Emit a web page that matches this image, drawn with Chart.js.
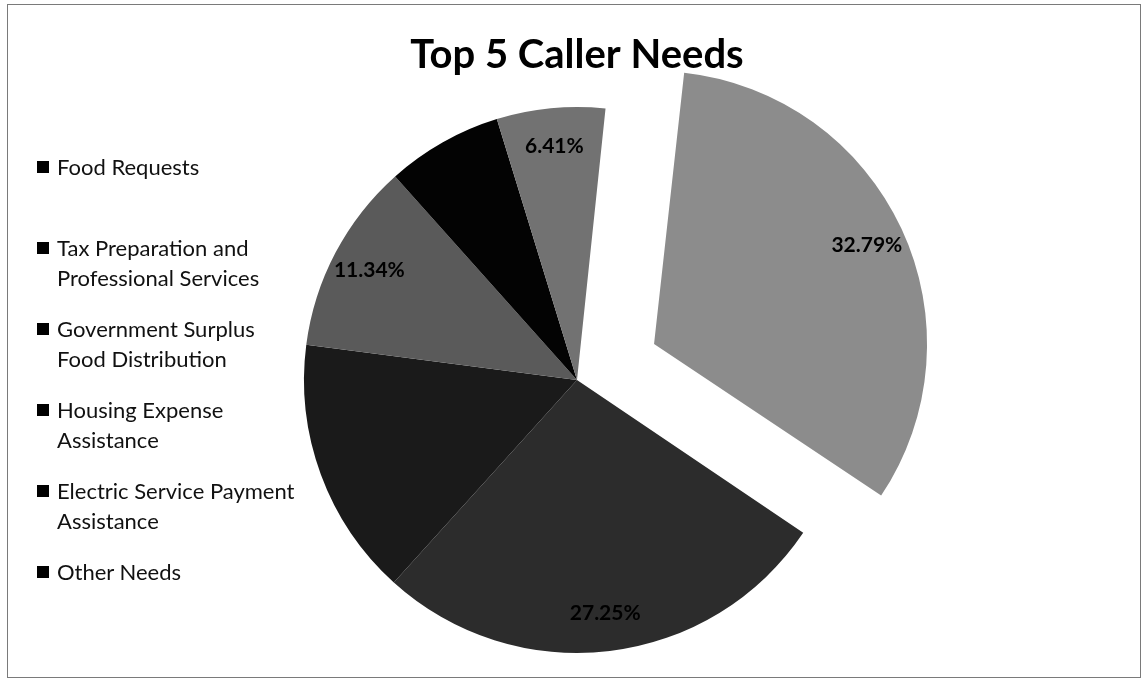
<!DOCTYPE html>
<html>
<head>
	<title>Top 5 Caller Needs</title>
	<script src="https://cdn.jsdelivr.net/npm/chart.js@4/dist/chart.umd.min.js"></script>
	<style>
		body { margin: 0; background: #fff; }
		#wrap { position: relative; width: 1143px; height: 680px; }
		#frame { position: absolute; left: 7px; top: 4px; width: 1132px; height: 672px; border: 1px solid #7a7a7a; }
		#legend { position: absolute; left: 37px; top: 0; font-family: Lato, sans-serif; font-size: 22px; color: #111; }
		#legend .item { position: absolute; left: 0; width: 270px; }
		#legend .box { position: absolute; left: 0; top: 9px; width: 12px; height: 12px; background: #000; }
		#legend .txt { position: absolute; left: 20px; width: 242px; line-height: 30px; }
		canvas { position: absolute; left: 0; top: 0; }
	</style>
</head>
<body>
	<div id="wrap">
		<div id="frame"></div>
		<canvas id="chart" width="1143" height="680"></canvas>
		<div id="legend"></div>
	</div>

	<script>
		// categories, shares (percent) and slice tones
		var categorias = ["Food Requests", "Tax Preparation and Professional Services", "Government Surplus Food Distribution", "Housing Expense Assistance", "Electric Service Payment Assistance", "Other Needs"];
		var porcentajes = [32.79, 27.25, 15.35, 11.34, 6.86, 6.41];
		var colores = ["#8c8c8c", "#2c2c2c", "#1a1a1a", "#5a5a5a", "#030303", "#727272"];
		// only these slices carry a printed value
		var conEtiqueta = [true, true, false, true, false, true];

		// legend on the left
		var legend = document.getElementById('legend');
		for (var i = 0; i < categorias.length; i++) {
			var item = document.createElement('div');
			item.className = 'item';
			item.style.top = (152 + 81 * i) + 'px';
			item.innerHTML = '<div class="box"></div><div class="txt">' + categorias[i] + '</div>';
			legend.appendChild(item);
		}

		// arcs grow by offset/4*fix when pulled out; keep the pulled slice the same size
		var mismoRadio = {
			id: 'mismoRadio',
			beforeDatasetsDraw: function(chart) {
				var meta = chart.getDatasetMeta(0);
				var r = meta.controller.outerRadius;
				meta.data.forEach(function(arc) {
					var off = (arc.options.offset || 0) / 4;
					var circ = arc.endAngle - arc.startAngle;
					var fix = 1 - Math.sin(Math.min(Math.PI, circ));
					arc.outerRadius = r - off * fix;
				});
			}
		};

		// percent labels inside the slices
		var etiquetas = {
			id: 'etiquetas',
			afterDatasetsDraw: function(chart) {
				var ctx = chart.ctx;
				var meta = chart.getDatasetMeta(0);
				var r = meta.controller.outerRadius;
				ctx.save();
				ctx.font = 'bold 21px Lato, sans-serif';
				ctx.fillStyle = '#000';
				ctx.textAlign = 'center';
				ctx.textBaseline = 'middle';
				meta.data.forEach(function(arc, i) {
					if (!conEtiqueta[i]) return;
					var mid = (arc.startAngle + arc.endAngle) / 2;
					var d = (arc.options.offset || 0) / 4 + r * 0.86;
					ctx.fillText(porcentajes[i].toFixed(2) + '%', arc.x + Math.cos(mid) * d, arc.y + Math.sin(mid) * d);
				});
				ctx.restore();
			}
		};

		var canvas = document.getElementById('chart').getContext('2d');
		window.pie = new Chart(canvas, {
			type: 'pie',
			data: {
				labels: categorias,
				datasets: [{
					data: porcentajes,
					backgroundColor: colores,
					borderWidth: 0,
					offset: [340, 0, 0, 0, 0, 0],
					radius: 273
				}]
			},
			options: {
				responsive: false,
				animation: false,
				rotation: 6,
				layout: { padding: { left: 11, right: 0, top: 0, bottom: 12 } },
				plugins: {
					legend: { display: false },
					tooltip: { enabled: false },
					title: {
						display: true,
						text: 'Top 5 Caller Needs',
						color: '#000',
						font: { family: 'Lato, sans-serif', size: 40, weight: 'bold', lineHeight: 1.2 },
						padding: { top: 31, bottom: 13 }
					}
				}
			},
			plugins: [mismoRadio, etiquetas]
		});
	</script>
</body>
</html>
